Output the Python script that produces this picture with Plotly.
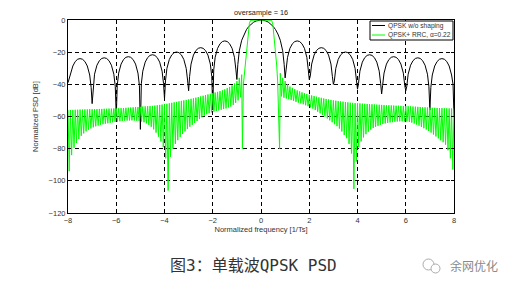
import plotly.graph_objects as go

# ---------------- data ----------------
# Black curve: QPSK without shaping. Sampled per symbol interval at these offsets.
LOBE_OFFSETS = [0.0, 0.04, 0.1, 0.2, 0.3, 0.4, 0.5, 0.6, 0.7, 0.8, 0.9, 0.96]
INTERVAL_STARTS = list(range(-8, 8))
P_BLACK = [
    -39, -37, -34.2, -28.6, -25.8, -24.4, -24.0, -24.4, -25.8, -28.6, -34.2, -42.0,
    -52, -41.5, -33.7, -28.1, -25.3, -23.9, -23.5, -23.9, -25.3, -28.1, -33.7, -41.5,
    -60, -40.8, -33.0, -27.4, -24.6, -23.2, -22.8, -23.2, -24.6, -27.4, -33.0, -40.8,
    -68, -39.6, -31.8, -26.2, -23.4, -22.0, -21.6, -22.0, -23.4, -26.2, -31.8, -39.6,
    -49, -37.9, -30.1, -24.5, -21.7, -20.3, -19.9, -20.3, -21.7, -24.5, -30.1, -37.9,
    -44, -35.2, -27.4, -21.8, -19.0, -17.6, -17.2, -17.6, -19.0, -21.8, -27.4, -35.2,
    -56, -31.0, -23.2, -17.6, -14.8, -13.4, -13.0, -13.4, -14.8, -17.6, -23.2, -31.0,
    -37, -27.6, -19.2, -12.6, -8.7, -5.9, -3.9, -2.4, -1.3, -0.6, -0.1, 0.0,
    0.0, 0.0, -0.1, -0.6, -1.3, -2.4, -3.9, -5.9, -8.7, -12.6, -19.2, -27.6,
    -36, -31.0, -23.2, -17.6, -14.8, -13.4, -13.0, -13.4, -14.8, -17.6, -23.2, -31.0,
    -37, -35.2, -27.4, -21.8, -19.0, -17.6, -17.2, -17.6, -19.0, -21.8, -27.4, -35.2,
    -40, -37.9, -30.1, -24.5, -21.7, -20.3, -19.9, -20.3, -21.7, -24.5, -30.1, -37.9,
    -43, -39.6, -31.8, -26.2, -23.4, -22.0, -21.6, -22.0, -23.4, -26.2, -31.8, -39.6,
    -46, -40.8, -33.0, -27.4, -24.6, -23.2, -22.8, -23.2, -24.6, -27.4, -33.0, -40.8,
    -44, -41.5, -33.7, -28.1, -25.3, -23.9, -23.5, -23.9, -25.3, -28.1, -33.7, -41.5,
    -56, -42.0, -34.2, -28.6, -25.8, -24.4, -24.0, -24.4, -25.8, -28.6, -34.2, -40.0,
    -60,
]

# Green curve: RRC main lobe
F_MAIN = [-0.77, -0.73, -0.66, -0.59, -0.53, -0.48, -0.43, -0.3, -0.15, 0.0,
          0.15, 0.3, 0.44, 0.49, 0.54, 0.61, 0.65, 0.69, 0.73, 0.77]
P_MAIN = [-80, -40, -28, -17.6, -7.3, -2.0, -0.2, 0.0, -0.1, 0.0,
          -0.1, 0.0, -0.2, -2.5, -9.3, -19.7, -28, -38, -62, -80]

# Green side-lobe ripple: tooth tops at |f| = 0.8, 0.9, ... 7.9 and troughs at 0.85 ... 7.95
TOOTH_START, TOOTH_STEP, N_TEETH = 0.8, 0.1, 72
RIGHT_TOP = [
    -33, -36,
    -38, -40, -41.4, -42.2, -43, -43.8, -44.4, -45, -45.5, -46,
    -46.5, -46.9, -47.3, -47.7, -48.1, -48.4, -48.8, -49.1, -49.4, -49.7,
    -50.0, -50.2, -50.4, -50.6, -50.8, -51.0, -51.2, -51.4, -51.5, -51.7,
    -51.8, -51.9, -52.0, -52.1, -52.2, -52.3, -52.4, -52.5, -52.6, -52.7,
    -52.8, -52.9, -53.0, -53.0, -53.1, -53.2, -53.3, -53.3, -53.4, -53.5,
    -53.5, -53.6, -53.7, -53.8, -53.9, -54.0, -54.1, -54.2, -54.3, -54.4,
    -54.5, -54.6, -54.6, -54.7, -54.8, -54.8, -54.9, -54.9, -55.0, -55.0,
]
RIGHT_BOT = [
    -47.5, -48.3,
    -48.8, -49.3, -49.8, -50.3, -50.9, -51.4, -51.9, -52.4, -53.0, -53.6,
    -54.3, -55.1, -56.0, -57.0, -58.0, -59.0, -60.0, -61.2, -62.4, -63.6,
    -64.8, -66.0, -67.5, -69.3, -71.5, -73.5, -77.0, -83.0, -105.0, -88.0,
    -79.0, -75.5, -73.0, -71.0, -69.5, -68.2, -67.2, -66.4, -65.8, -65.2,
    -64.7, -64.3, -64.0, -63.7, -63.5, -63.3, -63.1, -63.0, -63.0, -63.0,
    -63.1, -63.4, -63.8, -64.4, -65.0, -65.7, -66.5, -67.3, -68.1, -69.0,
    -70.0, -71.2, -72.4, -73.6, -74.8, -76.0, -77.5, -81.0, -86.0, -93.0,
]
LEFT_TOP = [
    -34, -36,
    -38, -39.5, -40.6, -41.6, -42.4, -43.1, -43.7, -44.2, -44.7, -45.1,
    -45.5, -45.9, -46.3, -46.7, -47.1, -47.5, -47.9, -48.3, -48.7, -49.0,
    -49.4, -49.7, -50.0, -50.3, -50.6, -50.9, -51.2, -51.5, -51.8, -52.1,
    -52.4, -52.6, -52.8, -53.0, -53.2, -53.4, -53.5, -53.6, -53.7, -53.8,
    -54.0, -54.1, -54.2, -54.3, -54.4, -54.5, -54.6, -54.7, -54.8, -54.9,
    -55.0, -55.0, -55.1, -55.1, -55.2, -55.2, -55.3, -55.3, -55.4, -55.4,
    -55.5, -55.5, -55.6, -55.6, -55.7, -55.7, -55.8, -55.8, -55.9, -56.0,
]
LEFT_BOT = [
    -48.0, -50.0,
    -51.5, -52.8, -53.8, -54.4, -55.0, -55.4, -55.8, -56.2, -56.6, -57.0,
    -57.4, -57.9, -58.6, -59.5, -60.5, -61.6, -62.8, -64.0, -65.2, -66.4,
    -67.8, -69.3, -70.9, -72.7, -74.7, -77.0, -80.0, -85.0, -106.0, -86.0,
    -79.0, -75.5, -72.5, -70.0, -68.0, -66.4, -65.2, -64.3, -63.6, -63.1,
    -62.8, -62.6, -62.5, -62.4, -62.4, -62.5, -62.6, -62.8, -63.0, -63.2,
    -63.4, -63.6, -63.9, -64.2, -64.5, -64.8, -65.1, -65.6, -66.1, -66.7,
    -67.4, -68.2, -69.2, -70.5, -72.0, -74.0, -76.5, -79.5, -84.0, -94.0,
]
EDGE_LEFT, EDGE_RIGHT = -56.0, -55.0

X_TICKS = [-8, -6, -4, -2, 0, 2, 4, 6, 8]
Y_TICKS = [-120, -100, -80, -60, -40, -20, 0]
NAME_BLACK = "QPSK w/o shaping"
NAME_GREEN = "QPSK+ RRC, \u03b1=0.22"
TITLE = "oversample = 16"
CAPTION = "图3：单载波QPSK PSD"
WATERMARK = "余网优化"

# ---------------- assemble the traces ----------------
f_black = [round(s + o, 2) for s in INTERVAL_STARTS for o in LOBE_OFFSETS] + [8.0]

pts = []
for k in range(N_TEETH):
    ft = round(TOOTH_START + TOOTH_STEP * k, 3)
    fb = round(ft + TOOTH_STEP / 2, 3)
    pts.append((-ft, LEFT_TOP[k]))
    pts.append((-fb, LEFT_BOT[k]))
    pts.append((ft, RIGHT_TOP[k]))
    pts.append((fb, RIGHT_BOT[k]))
pts += list(zip(F_MAIN, P_MAIN))
pts += [(-8.0, EDGE_LEFT), (8.0, EDGE_RIGHT)]
pts.sort(key=lambda p: p[0])
f_green = [p[0] for p in pts]
p_green = [p[1] for p in pts]

FONT = "Liberation Sans, Arial, sans-serif"
fig = go.Figure()
fig.add_trace(go.Scatter(x=f_black, y=P_BLACK, mode="lines", name=NAME_BLACK,
                         line=dict(color="black", width=1), showlegend=False))
fig.add_trace(go.Scatter(x=f_green, y=p_green, mode="lines", name=NAME_GREEN,
                         line=dict(color="#00ff00", width=1), showlegend=False))

axis_common = dict(showline=True, linecolor="black", linewidth=1, mirror="ticks",
                   ticks="inside", ticklen=3, tickcolor="black",
                   showgrid=True, gridcolor="black", gridwidth=1, griddash="4px,3px",
                   zeroline=False, tickfont=dict(family=FONT, size=7.5, color="#333"))
fig.update_xaxes(range=[-8, 8], tickvals=X_TICKS, **axis_common,
                 title=dict(text="Normalized frequency [1/Ts]", standoff=0,
                            font=dict(family=FONT, size=7.5, color="#333")))
fig.update_yaxes(range=[-120, 0], tickvals=Y_TICKS, **axis_common,
                 title=dict(text="Normalized PSD [dB]", standoff=8,
                            font=dict(family=FONT, size=7.5, color="#333")))

# plot area: x 68..454 px, y 20..213 px
L, R, T, B = 68, 454, 20, 213
W, H = R - L, B - T
def px(x):
    return (x - L) / W
def py(y):
    return (B - y) / H

shapes = []
annotations = []
annotations.append(dict(text=TITLE, x=0.5, y=py(12), xref="paper", yref="paper",
                        showarrow=False, xanchor="center", yanchor="middle",
                        font=dict(family=FONT, size=7.3, color="#222")))
# legend box
shapes.append(dict(type="rect", xref="paper", yref="paper", x0=px(370), x1=px(453),
                   y0=py(40), y1=py(21), line=dict(color="black", width=1),
                   fillcolor="white", layer="above"))
for yy, col, name in [(25.5, "black", NAME_BLACK), (35, "#00ff00", NAME_GREEN)]:
    shapes.append(dict(type="line", xref="paper", yref="paper", x0=px(372), x1=px(385),
                       y0=py(yy), y1=py(yy), line=dict(color=col, width=1), layer="above"))
    annotations.append(dict(text=name, x=px(386), y=py(yy), xref="paper", yref="paper",
                            showarrow=False, xanchor="left", yanchor="middle",
                            font=dict(family=FONT, size=6.6, color="#333")))
# caption
annotations.append(dict(text=CAPTION, x=px(253.5), y=py(265), xref="paper", yref="paper",
                        showarrow=False, xanchor="center", yanchor="middle",
                        font=dict(family="DejaVu Sans Mono, Noto Sans CJK SC", size=16,
                                  color="#333")))
# watermark
annotations.append(dict(text=WATERMARK, x=px(448), y=py(265), xref="paper", yref="paper",
                        showarrow=False, xanchor="left", yanchor="middle",
                        font=dict(family="Noto Sans CJK SC", size=12, color="#8a8a8a")))
shapes.append(dict(type="circle", xref="paper", yref="paper", x0=px(423), x1=px(434),
                   y0=py(270), y1=py(259), line=dict(color="#aaaaaa", width=1)))
shapes.append(dict(type="circle", xref="paper", yref="paper", x0=px(431), x1=px(440),
                   y0=py(273), y1=py(264), line=dict(color="#aaaaaa", width=1),
                   fillcolor="white"))

fig.update_layout(width=513, height=288, margin=dict(l=L, r=513 - R, t=T, b=288 - B),
                  paper_bgcolor="white", plot_bgcolor="white",
                  shapes=shapes, annotations=annotations, showlegend=False)
fig.write_html("out.html")
